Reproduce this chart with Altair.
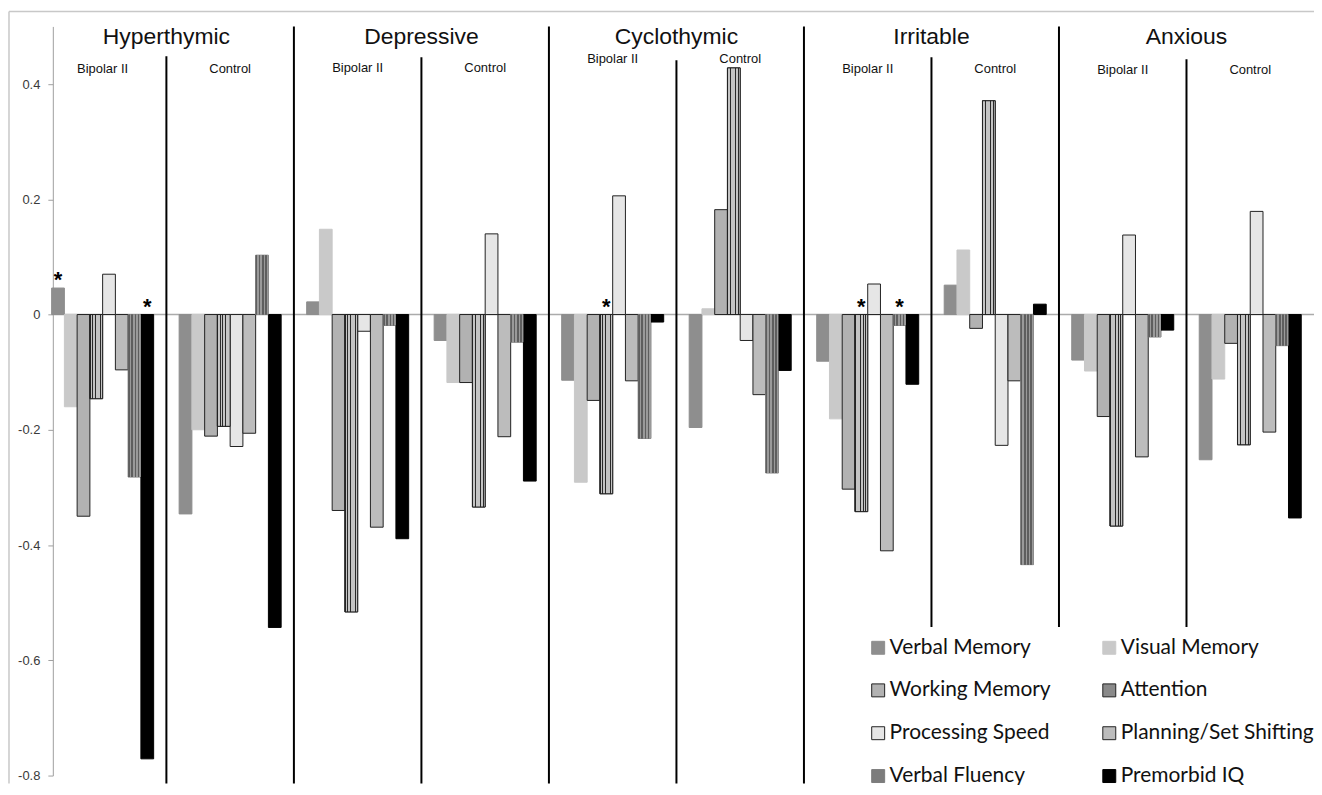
import altair as alt
import pandas as pd

temperaments = ["Hyperthymic", "Depressive", "Cyclothymic", "Irritable", "Anxious"]
groups = ["Bipolar II", "Control"]
measures = ["Verbal Memory", "Visual Memory", "Working Memory", "Attention",
            "Processing Speed", "Planning/Set Shifting", "Verbal Fluency", "Premorbid IQ"]

hyperthymic_bp = [0.046, -0.160, -0.350, -0.146, 0.070, -0.096, -0.282, -0.771]
hyperthymic_ctrl = [-0.346, -0.200, -0.211, -0.194, -0.229, -0.206, 0.103, -0.543]
depressive_bp = [0.022, 0.148, -0.340, -0.516, -0.029, -0.369, -0.019, -0.389]
depressive_ctrl = [-0.045, -0.118, -0.118, -0.334, 0.140, -0.212, -0.048, -0.289]
cyclothymic_bp = [-0.114, -0.291, -0.149, -0.311, 0.206, -0.115, -0.215, -0.013]
cyclothymic_ctrl = [-0.196, 0.010, 0.182, 0.428, -0.045, -0.139, -0.275, -0.097]
irritable_bp = [-0.081, -0.181, -0.303, -0.342, 0.053, -0.410, -0.019, -0.121]
irritable_ctrl = [0.051, 0.112, -0.024, 0.371, -0.227, -0.115, -0.434, 0.018]
anxious_bp = [-0.079, -0.098, -0.177, -0.367, 0.138, -0.247, -0.039, -0.027]
anxious_ctrl = [-0.252, -0.112, -0.050, -0.226, 0.179, -0.204, -0.054, -0.353]

series = {
    ("Hyperthymic", "Bipolar II"): hyperthymic_bp,
    ("Hyperthymic", "Control"): hyperthymic_ctrl,
    ("Depressive", "Bipolar II"): depressive_bp,
    ("Depressive", "Control"): depressive_ctrl,
    ("Cyclothymic", "Bipolar II"): cyclothymic_bp,
    ("Cyclothymic", "Control"): cyclothymic_ctrl,
    ("Irritable", "Bipolar II"): irritable_bp,
    ("Irritable", "Control"): irritable_ctrl,
    ("Anxious", "Bipolar II"): anxious_bp,
    ("Anxious", "Control"): anxious_ctrl,
}

# significance markers (temperament, group, measure)
star_keys = [
    ("Hyperthymic", "Bipolar II", "Verbal Memory"),
    ("Hyperthymic", "Bipolar II", "Premorbid IQ"),
    ("Cyclothymic", "Bipolar II", "Attention"),
    ("Irritable", "Bipolar II", "Attention"),
    ("Irritable", "Bipolar II", "Verbal Fluency"),
]

fills = ["#8e8e8e", "#c9c9c9", "#b2b2b2", "#8a8a8a", "#e6e6e6", "#bcbcbc", "#7c7c7c", "#000000"]
strokes = ["#8e8e8e", "#c9c9c9", "#222222", "#222222", "#222222", "#222222", "#7c7c7c", "#000000"]
# legend reads row by row: two columns
legend_order = [measures[i] for i in (0, 2, 4, 6, 1, 3, 5, 7)]

rows = []
for t in temperaments:
    for g in groups:
        for m, v in zip(measures, series[(t, g)]):
            rows.append(dict(temperament=t, group=g, slot=f"{t}|{g}", measure=m, value=v))
df = pd.DataFrame(rows)
slots = [f"{t}|{g}" for t in temperaments for g in groups]

stars = df.merge(pd.DataFrame(star_keys, columns=["temperament", "group", "measure"]))
stars["top"] = stars["value"].clip(lower=0)

titles_df = pd.DataFrame({"slot": [f"{t}|Control" for t in temperaments], "label": temperaments})
tsep_df = pd.DataFrame({"slot": [f"{t}|Bipolar II" for t in temperaments[1:]]})
zero_df = pd.DataFrame({"z": [0]})

W, H = 1280, 752
PAD_B = 8

# vertical pixel placement of the group labels / group separators per temperament (style)
label_y = {"Hyperthymic": 43, "Depressive": 42, "Cyclothymic": 33, "Irritable": 43, "Anxious": 44}
gsep_top = {"Hyperthymic": 30, "Depressive": 31, "Cyclothymic": 34, "Irritable": 31, "Anxious": 33}

xscale = alt.Scale(domain=slots, paddingInner=0, paddingOuter=0)
xoff = alt.Scale(domain=measures, paddingInner=0, paddingOuter=1)
yscale = alt.Scale(domain=[-0.8, 0.5], nice=False)

yaxis = alt.Axis(
    values=[-0.8, -0.6, -0.4, -0.2, 0, 0.2, 0.4],
    labelExpr="datum.value == 0 ? '0' : (datum.value < 0 ? '-' : '') + format(abs(datum.value), '.1f')",
    offset=-14, grid=False, domainColor="#a0a0a0", tickColor="#a0a0a0", tickSize=5,
    labelFont="Liberation Sans", labelFontSize=13, labelColor="#3a3a3a", labelPadding=8,
    title=None, domainWidth=1,
)

legend = alt.Legend(
    orient="none", legendX=822, legendY=603, columns=2, symbolType="square",
    symbolSize=169, labelFont="Lato", labelFontSize=21, labelColor="#111111",
    rowPadding=21, columnPadding=48, fillColor="white", padding=10, labelLimit=400,
    labelOffset=1, title=None, symbolStrokeWidth=1, values=legend_order,
)

X = alt.X("slot:N", scale=xscale, axis=None)
XO = alt.XOffset("measure:N", scale=xoff, sort=measures)
Y = alt.Y("value:Q", scale=yscale, axis=yaxis)

zero_line = alt.Chart(zero_df).mark_rule(color="#ababab", strokeWidth=1.5).encode(
    y=alt.Y("z:Q", scale=yscale, axis=yaxis), x=alt.value(14), x2=alt.value(W)
)

frame_top = alt.Chart(zero_df).mark_rule(color="#c8c8c8", strokeWidth=1.5).encode(
    x=alt.value(-30), x2=alt.value(W + 2), y=alt.value(-15)
)
frame_left = alt.Chart(zero_df).mark_rule(color="#c8c8c8", strokeWidth=1.5).encode(
    x=alt.value(-30), y=alt.value(-15), y2=alt.value(H + PAD_B)
)

tsep = alt.Chart(tsep_df).mark_rule(color="black", strokeWidth=2).encode(
    x=alt.X("slot:N", scale=xscale, axis=None, bandPosition=0),
    y=alt.value(0), y2=alt.value(H + PAD_B),
)

gsep_layers = []
glabel_layers = []
for t in temperaments:
    gsep_layers.append(
        alt.Chart(pd.DataFrame({"slot": [f"{t}|Control"]})).mark_rule(color="black", strokeWidth=2).encode(
            x=alt.X("slot:N", scale=xscale, axis=None, bandPosition=0),
            y=alt.value(gsep_top[t]), y2=alt.value(H + PAD_B),
        )
    )
    gdf = pd.DataFrame({"slot": [f"{t}|{g}" for g in groups], "label": groups})
    glabel_layers.append(
        alt.Chart(gdf).mark_text(
            font="Liberation Sans", fontSize=13, baseline="middle", color="#111111"
        ).encode(
            x=alt.X("slot:N", scale=xscale, axis=None, bandPosition=0.5),
            y=alt.value(label_y[t]), text="label:N",
        )
    )

bars = alt.Chart(df).mark_bar(strokeWidth=1).encode(
    x=X, xOffset=XO, y=Y, y2=alt.datum(0),
    fill=alt.Fill("measure:N", scale=alt.Scale(domain=measures, range=fills), legend=legend, sort=measures, title=None),
    stroke=alt.Stroke("measure:N", scale=alt.Scale(domain=measures, range=strokes), legend=legend, sort=measures, title=None),
)

def stripes(dark, light, n, frac):
    st = []
    for i in range(n):
        a = i / n
        b = (i + frac) / n
        c = (i + 1) / n
        st += [{"offset": a, "color": dark}, {"offset": b, "color": dark},
               {"offset": b, "color": light}, {"offset": c, "color": light}]
    return {"gradient": "linear", "x1": 0, "y1": 0, "x2": 1, "y2": 0, "stops": st}

vf_overlay = alt.Chart(df).transform_filter(alt.datum.measure == "Verbal Fluency").mark_bar(
    fill=stripes("#5e5e5e", "#9a9a9a", 4, 0.5), strokeWidth=0
).encode(x=X, xOffset=XO, y=Y, y2=alt.datum(0))

att_overlay = alt.Chart(df).transform_filter(alt.datum.measure == "Attention").mark_bar(
    fill=stripes("#2a2a2a", "#c4c4c4", 5, 0.35), stroke="#222222", strokeWidth=1
).encode(x=X, xOffset=XO, y=Y, y2=alt.datum(0))

star_marks = alt.Chart(stars).mark_text(
    text="*", font="Liberation Sans", fontWeight="bold", fontSize=22, baseline="alphabetic", dy=-1, color="black"
).encode(x=X, xOffset=XO, y=alt.Y("top:Q", scale=yscale, axis=yaxis))

titles = alt.Chart(titles_df).mark_text(
    font="Liberation Sans", fontSize=23, baseline="middle", color="#111111"
).encode(x=alt.X("slot:N", scale=xscale, axis=None, bandPosition=0), y=alt.value(11), text="label:N")

chart = alt.layer(
    zero_line, frame_top, frame_left, tsep, *gsep_layers, bars, vf_overlay, att_overlay,
    star_marks, titles, *glabel_layers
).properties(
    width=W, height=H,
    autosize=alt.AutoSizeParams(type="none"),
    padding={"left": 31, "top": 17, "right": 0, "bottom": PAD_B},
).configure_view(stroke=None)

chart.save("out.html", embed_options={"renderer": "svg", "actions": False})
